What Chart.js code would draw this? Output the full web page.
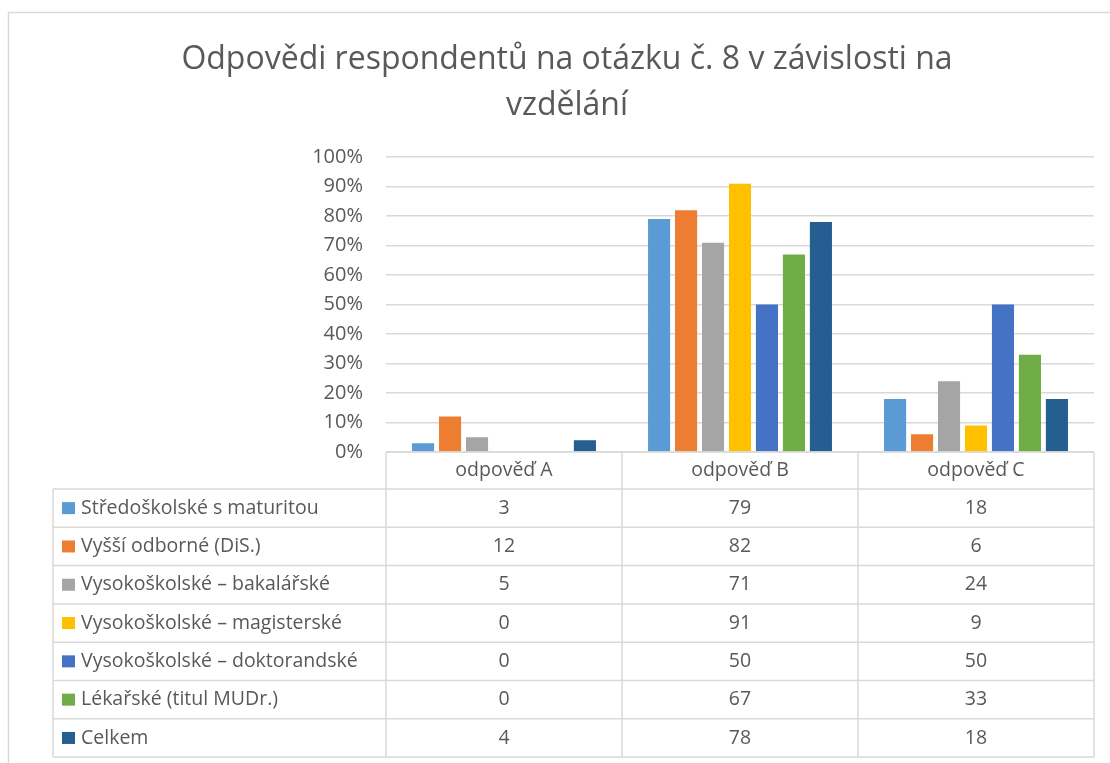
<!DOCTYPE html>
<html>
<head>
<meta charset="utf-8">
<script src="https://cdn.jsdelivr.net/npm/chart.js@4/dist/chart.umd.min.js"></script>
<style>
  html, body { margin: 0; padding: 0; background: #fff; }
  #wrap { width: 1110px; height: 763px; position: relative; }
</style>
</head>
<body>
<div id="wrap"><canvas id="c" width="1110" height="763"></canvas></div>
<script>
// ---- data ----
const titleLines = ['Odpovědi respondentů na otázku č. 8 v závislosti na', 'vzdělání'];
const categories = ['odpověď A', 'odpověď B', 'odpověď C'];
const seriesNames = [
  'Středoškolské s maturitou',
  'Vyšší odborné (DiS.)',
  'Vysokoškolské – bakalářské',
  'Vysokoškolské – magisterské',
  'Vysokoškolské – doktorandské',
  'Lékařské (titul MUDr.)',
  'Celkem'
];
const stredoskolske = [3, 79, 18];
const vyssiOdborne = [12, 82, 6];
const bakalarske = [5, 71, 24];
const magisterske = [0, 91, 9];
const doktorandske = [0, 50, 50];
const lekarske = [0, 67, 33];
const celkem = [4, 78, 18];
const seriesValues = [stredoskolske, vyssiOdborne, bakalarske, magisterske, doktorandske, lekarske, celkem];
const seriesColors = ['#5B9BD5', '#ED7D31', '#A5A5A5', '#FFC000', '#4472C4', '#70AD47', '#255E91'];
const yTicks = [0, 10, 20, 30, 40, 50, 60, 70, 80, 90, 100];

const TEXT = '#595959';
const LINE = '#d9d9d9';
const FONT = "'Open Sans', 'DejaVu Sans', sans-serif";
const PAD_LEFT = 40;

const tablePlugin = {
  id: 'dataTable',
  beforeDraw(chart) {
    const ctx = chart.ctx;
    ctx.save();
    ctx.strokeStyle = LINE;
    ctx.lineWidth = 1.5;
    ctx.beginPath();
    ctx.moveTo(8.5, 763);
    ctx.lineTo(8.5, 12.5);
    ctx.lineTo(1110, 12.5);
    ctx.stroke();
    ctx.restore();
  },
  afterDraw(chart) {
    const ctx = chart.ctx;
    const area = chart.chartArea;
    const xs = chart.scales.x;
    const n = categories.length;
    const catW = (area.right - area.left) / n;
    const top = area.bottom;
    const headerH = 37;
    const rowH = 38.3;
    const leftX = 53;
    const rowsTop = top + headerH;
    const bottom = rowsTop + rowH * seriesNames.length;
    ctx.save();
    ctx.strokeStyle = LINE;
    ctx.lineWidth = 1.5;
    ctx.beginPath();
    ctx.moveTo(area.left, top); ctx.lineTo(area.right, top);
    for (let r = 0; r <= seriesNames.length; r++) {
      const y = rowsTop + r * rowH;
      ctx.moveTo(leftX, y); ctx.lineTo(area.right, y);
    }
    ctx.moveTo(leftX, rowsTop); ctx.lineTo(leftX, bottom);
    for (let i = 0; i <= n; i++) {
      const x = area.left + i * catW;
      ctx.moveTo(x, top); ctx.lineTo(x, bottom);
    }
    ctx.stroke();

    ctx.fillStyle = TEXT;
    ctx.font = "19.5px " + FONT;
    ctx.textBaseline = 'middle';
    ctx.textAlign = 'center';
    categories.forEach((c, i) => {
      ctx.fillText(c, xs.getPixelForValue(i), top + headerH / 2);
    });
    seriesNames.forEach((name, r) => {
      const cy = rowsTop + r * rowH + rowH / 2;
      ctx.fillStyle = seriesColors[r];
      ctx.fillRect(62, cy - 6, 13, 12);
      ctx.fillStyle = TEXT;
      ctx.textAlign = 'left';
      ctx.fillText(name, 81, cy);
      ctx.textAlign = 'center';
      seriesValues[r].forEach((v, i) => {
        ctx.fillText(String(v), xs.getPixelForValue(i), cy);
      });
    });
    ctx.restore();
  }
};

new Chart(document.getElementById('c'), {
  type: 'bar',
  data: {
    labels: categories,
    datasets: seriesNames.map((name, i) => ({
      label: name,
      data: seriesValues[i],
      backgroundColor: seriesColors[i],
      borderWidth: 0,
      categoryPercentage: 0.8,
      barPercentage: 0.82
    }))
  },
  options: {
    responsive: false,
    animation: false,
    devicePixelRatio: 1,
    layout: { padding: { left: PAD_LEFT, right: 16, top: 0, bottom: 311 } },
    plugins: {
      legend: { display: false },
      tooltip: { enabled: false },
      title: {
        display: true,
        text: titleLines,
        color: TEXT,
        font: { family: FONT, size: 32, weight: 'normal', lineHeight: 1.44 },
        padding: { top: 37, bottom: 28 }
      }
    },
    scales: {
      x: { display: false },
      y: {
        min: 0,
        max: 100,
        afterBuildTicks(scale) { scale.ticks = yTicks.map(v => ({ value: v })); },
        afterFit(scale) { scale.width = 386 - PAD_LEFT; },
        ticks: {
          color: TEXT,
          font: { family: FONT, size: 20 },
          padding: 23,
          callback: v => v + '%'
        },
        grid: { color: LINE, lineWidth: 1.5, drawTicks: false },
        border: { display: false }
      }
    }
  },
  plugins: [tablePlugin]
});
</script>
</body>
</html>
